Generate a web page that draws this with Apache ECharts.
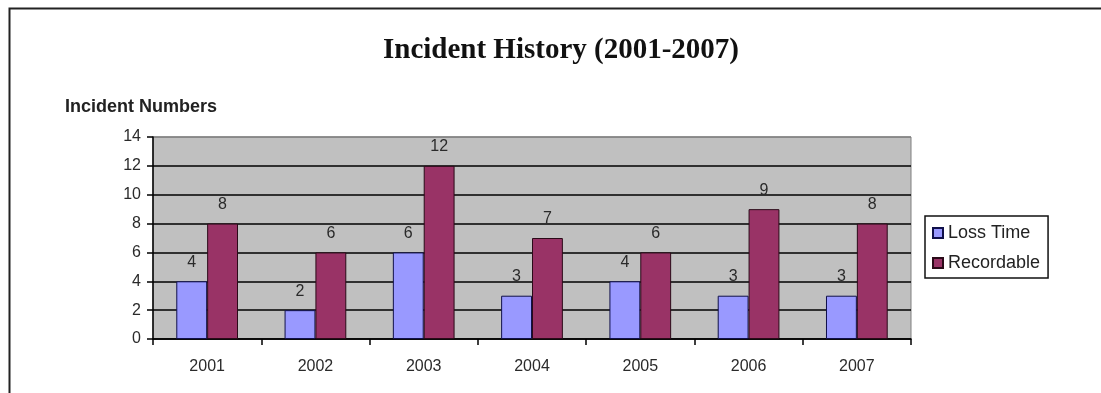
<!DOCTYPE html>
<html>
<head>
<meta charset="utf-8">
<title>Incident History (2001-2007)</title>
<script src="https://cdn.jsdelivr.net/npm/echarts@6/dist/echarts.min.js"></script>
<style>
  html, body { margin: 0; padding: 0; background: #ffffff; }
  #chart { width: 1101px; height: 393px; }
</style>
</head>
<body>
<div id="chart"></div>
<script>
// Yearly incident counts
const years = ['2001', '2002', '2003', '2004', '2005', '2006', '2007'];
const lossTime = [4, 2, 6, 3, 4, 3, 3];
const recordable = [8, 6, 12, 7, 6, 9, 8];
const seriesNames = ['Loss Time', 'Recordable'];
const chartTitle = 'Incident History (2001-2007)';
const yAxisTitle = 'Incident Numbers';

const chart = echarts.init(document.getElementById('chart'), null, { renderer: 'canvas' });

const sansFont = 'Arial, "Liberation Sans", sans-serif';
const labelStyle = {
  show: true,
  position: 'top',
  distance: 11,
  color: '#2a2a2a',
  fontFamily: sansFont,
  fontSize: 16
};

// gridline colours cycle per tick: the top (14) line is the plot border
const gridColors = ['#000', '#000', '#000', '#000', '#000', '#000', '#000', '#808080'];

chart.setOption({
  animation: false,
  backgroundColor: '#ffffff',
  title: [
    {
      text: chartTitle,
      left: 561,
      textAlign: 'center',
      top: 36,
      padding: 0,
      textStyle: {
        fontFamily: '"Liberation Serif", "Times New Roman", serif',
        fontWeight: 'bold',
        fontSize: 29,
        color: '#111'
      }
    },
    {
      text: yAxisTitle,
      left: 65,
      top: 98,
      padding: 0,
      textStyle: {
        fontFamily: sansFont,
        fontWeight: 'bold',
        fontSize: 18,
        color: '#222'
      }
    }
  ],
  graphic: [
    {
      type: 'polyline',
      shape: { points: [[9.5, 393], [9.5, 8.5], [1101, 8.5]] },
      style: { stroke: '#222', lineWidth: 2, fill: null },
      silent: true
    }
  ],
  legend: {
    orient: 'vertical',
    left: 925,
    top: 216,
    padding: [8, 8, 6, 7],
    itemGap: 12,
    itemWidth: 10,
    itemHeight: 10,
    borderColor: '#111',
    borderWidth: 1.5,
    icon: 'rect',
    data: seriesNames,
    textStyle: {
      fontFamily: sansFont,
      fontSize: 18,
      color: '#222',
      padding: [0, 0, 0, 0]
    }
  },
  grid: {
    left: 153,
    right: 190,
    top: 137,
    bottom: 54,
    show: true,
    backgroundColor: '#c0c0c0',
    borderColor: '#808080',
    borderWidth: 1
  },
  xAxis: {
    type: 'category',
    data: years,
    axisLine: { lineStyle: { color: '#000', width: 1.5 } },
    axisTick: { show: true, length: 6, lineStyle: { color: '#000', width: 1.5 } },
    axisLabel: {
      margin: 20,
      color: '#2a2a2a',
      fontFamily: sansFont,
      fontSize: 16
    }
  },
  yAxis: {
    type: 'value',
    min: 0,
    max: 14,
    interval: 2,
    axisLine: { show: true, lineStyle: { color: '#000', width: 1.5 } },
    axisTick: { show: true, length: 6, lineStyle: { color: '#000', width: 1.5 } },
    axisLabel: {
      margin: 12,
      color: '#2a2a2a',
      fontFamily: sansFont,
      fontSize: 16
    },
    splitLine: { show: true, lineStyle: { color: gridColors, width: 1.5 } }
  },
  series: [
    {
      name: seriesNames[0],
      type: 'bar',
      data: lossTime,
      barGap: '0%',
      barCategoryGap: '43%',
      itemStyle: { color: '#9999ff', borderColor: '#10104a', borderWidth: 1 },
      label: labelStyle
    },
    {
      name: seriesNames[1],
      type: 'bar',
      data: recordable,
      barGap: '0%',
      barCategoryGap: '43%',
      itemStyle: { color: '#993366', borderColor: '#2a0a18', borderWidth: 1 },
      label: labelStyle
    }
  ]
});
</script>
</body>
</html>
